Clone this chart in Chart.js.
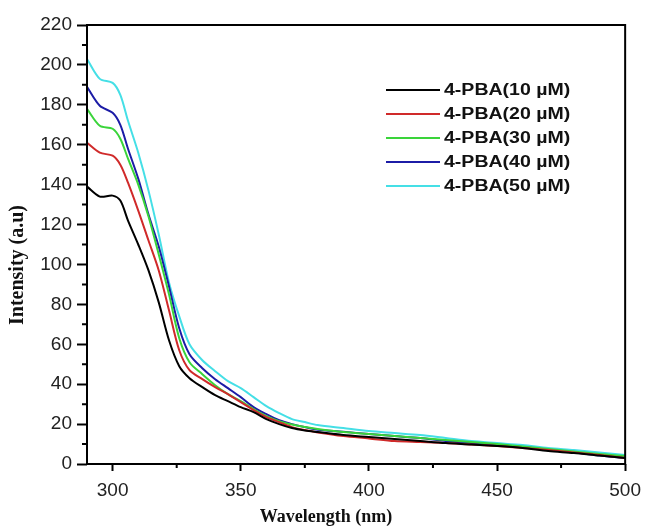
<!DOCTYPE html>
<html>
<head>
<meta charset="utf-8">
<script src="https://cdn.jsdelivr.net/npm/chart.js@4.4.0/dist/chart.umd.min.js"></script>
<style>
  html, body { margin: 0; padding: 0; background: #fff; }
  #wrap { width: 649px; height: 532px; }
</style>
</head>
<body>
<div id="wrap"><canvas id="chart" width="649" height="532"></canvas></div>
<script>
// wavelength (nm)
var wavelength = [290, 295, 300, 303, 306, 310, 314, 318, 322, 326, 330, 335, 340, 345, 350, 355, 360, 365, 370, 375, 380, 390, 400, 410, 420, 430, 440, 450, 460, 470, 480, 490, 500];

var pba10 = [139, 134, 134.5, 132, 122, 110, 97, 81, 62, 49, 43, 38.5, 34.5, 31.5, 28.5, 26, 22.5, 20, 18, 16.8, 16, 14.5, 13.5, 12.5, 11.5, 10.5, 9.8, 9, 8, 6.5, 5.5, 4.2, 3];
var pba20 = [161, 156, 154.5, 150, 141, 127, 112, 97, 77, 57, 47, 42.5, 38.5, 35, 31, 27, 23.5, 21, 18.5, 17, 15.8, 14, 12.8, 11.5, 11, 10.5, 9.8, 9, 8, 7, 5.8, 4.5, 3];
var pba30 = [178, 169.5, 168, 163, 153, 140, 124, 105, 85, 63, 51, 45, 39.5, 35, 31.5, 27.5, 24, 21.5, 19.8, 18.5, 17.5, 16, 15, 14, 13, 12, 11, 10, 8.8, 7.5, 6.3, 5, 4];
var pba40 = [189, 179.5, 176, 170, 158, 143, 125, 109, 89, 68, 55, 48, 42.5, 38, 33.5, 28.5, 25, 22, 20, 18.5, 17.2, 16.2, 15, 14, 13, 11.5, 10.5, 9.5, 8.5, 7, 5.8, 4.2, 3];
var pba50 = [203, 193, 191, 185, 172, 156, 137, 115, 91, 74, 60, 52, 46.5, 41.5, 38, 33.5, 29, 25.5, 22.5, 21, 19.5, 18, 16.5, 15.5, 14.5, 13, 11.5, 10.5, 9.5, 8, 7, 5.8, 4.5];

var seriesNames = ["4-PBA(10 µM)", "4-PBA(20 µM)", "4-PBA(30 µM)", "4-PBA(40 µM)", "4-PBA(50 µM)"];
var seriesColors = ["#000000", "#d02a2a", "#3ad43a", "#1c1ca6", "#45dfe6"];

var xTicks = [300, 350, 400, 450, 500];
var xMinor = [325, 375, 425, 475];
var yTicks = [0, 20, 40, 60, 80, 100, 120, 140, 160, 180, 200, 220];
var yMinor = [10, 30, 50, 70, 90, 110, 130, 150, 170, 190, 210];

var allSeries = [pba10, pba20, pba30, pba40, pba50];

var datasets = [];
for (var i = 0; i < allSeries.length; i++) {
	var pts = [];
	for (var j = 0; j < wavelength.length; j++)
		pts.push({ x: wavelength[j], y: allSeries[i][j] });
	datasets.push({
		label: seriesNames[i],
		data: pts,
		borderColor: seriesColors[i],
		backgroundColor: seriesColors[i],
		borderWidth: 2,
		pointRadius: 0,
		tension: 0.3,
		fill: false
	});
}

// frame, minor ticks, legend and axis titles
var extras = {
	id: "extras",
	afterDraw: function (chart) {
		var ctx = chart.ctx;
		var a = chart.chartArea;
		var xs = chart.scales.x, ys = chart.scales.y;
		ctx.save();
		ctx.strokeStyle = "#000";
		ctx.lineWidth = 2;
		ctx.strokeRect(a.left, a.top, a.right - a.left, a.bottom - a.top);

		ctx.beginPath();
		xMinor.forEach(function (v) {
			var px = xs.getPixelForValue(v);
			ctx.moveTo(px, a.bottom);
			ctx.lineTo(px, a.bottom + 4);
		});
		yMinor.forEach(function (v) {
			var py = ys.getPixelForValue(v);
			ctx.moveTo(a.left, py);
			ctx.lineTo(a.left - 5, py);
		});
		ctx.stroke();

		// legend
		ctx.font = "bold 16px 'Liberation Sans', Arial, sans-serif";
		ctx.textBaseline = "middle";
		ctx.textAlign = "left";
		chart.data.datasets.forEach(function (ds, k) {
			var y = 90 + k * 24;
			ctx.strokeStyle = ds.borderColor;
			ctx.lineWidth = 2;
			ctx.beginPath();
			ctx.moveTo(386, y);
			ctx.lineTo(440, y);
			ctx.stroke();
			ctx.fillStyle = "#111";
			ctx.save();
			ctx.translate(444, y + 1);
			ctx.scale(1.22, 1);
			ctx.fillText(ds.label, 0, 0);
			ctx.restore();
		});

		// axis titles
		ctx.fillStyle = "#111";
		ctx.textAlign = "center";
		ctx.font = "bold 18px 'Liberation Serif', 'Times New Roman', serif";
		ctx.fillText("Wavelength (nm)", 326, 517);
		ctx.font = "bold 20px 'Liberation Serif', 'Times New Roman', serif";
		ctx.translate(18, 265);
		ctx.rotate(-Math.PI / 2);
		ctx.fillText("Intensity (a.u)", 0, 0);
		ctx.restore();
	}
};

var tickFont = { family: "'Liberation Sans', Arial, sans-serif", size: 19 };

var chart = new Chart(document.getElementById("chart"), {
	type: "line",
	data: { datasets: datasets },
	plugins: [extras],
	options: {
		responsive: false,
		animation: false,
		layout: { padding: { left: 0, top: 25, right: 18, bottom: 0 } },
		plugins: {
			legend: { display: false },
			tooltip: { enabled: false }
		},
		scales: {
			x: {
				type: "linear",
				min: 290,
				max: 500,
				afterBuildTicks: function (s) {
					s.ticks = xTicks.map(function (v) { return { value: v }; });
				},
				afterFit: function (s) { s.height = 68; },
				border: { display: false },
				grid: { drawOnChartArea: false, tickLength: 7, tickWidth: 2, tickColor: "#000" },
				ticks: { font: tickFont, color: "#222", padding: 8, maxRotation: 0 }
			},
			y: {
				min: 0,
				max: 220,
				afterBuildTicks: function (s) {
					s.ticks = yTicks.map(function (v) { return { value: v }; });
				},
				afterFit: function (s) { s.width = 87; },
				border: { display: false },
				grid: { drawOnChartArea: false, tickLength: 10, tickWidth: 2, tickColor: "#000" },
				ticks: { font: tickFont, color: "#222", padding: 5 }
			}
		}
	}
});
</script>
</body>
</html>
